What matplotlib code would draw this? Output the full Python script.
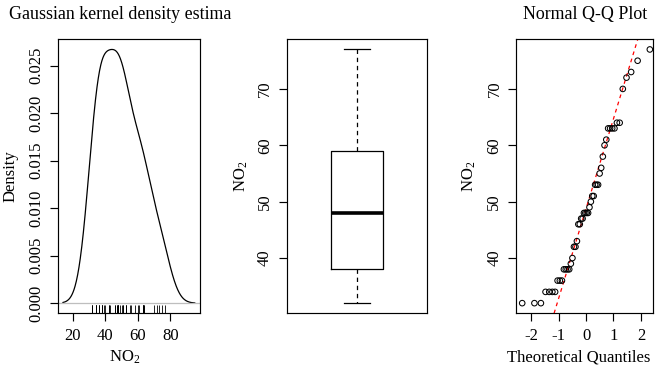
import numpy as np
import matplotlib
matplotlib.use("Agg")
import matplotlib.pyplot as plt
from statistics import NormalDist

# ---------------- data ----------------
no2 = [32, 32, 32, 34, 34, 34, 34, 36, 36, 36, 38, 38, 38, 38, 39, 40, 42, 42,
       43, 46, 46, 47, 47, 48, 48, 48, 48, 49, 50, 51, 51, 53, 53, 53, 55, 56,
       58, 60, 61, 63, 63, 63, 63, 64, 64, 70, 72, 73, 75, 77]

density_yticks = [0.000, 0.005, 0.010, 0.015, 0.020, 0.025]
density_xticks = [20, 40, 60, 80]
box_yticks = [40, 50, 60, 70]
qq_xticks = [-2, -1, 0, 1, 2]
qq_yticks = [40, 50, 60, 70]

box_whislo = 32
box_q1 = 38
box_med = 48
box_q3 = 59
box_whishi = 77

bw_adjust = 1.16

title_left = "Gaussian kernel density estima"
title_right = "Normal Q-Q Plot"
xlab_left = r"NO$_{\mathregular{2}}$"
ylab_left = "Density"
ylab_mid = r"NO$_{\mathregular{2}}$"
xlab_right = "Theoretical Quantiles"
ylab_right = r"NO$_{\mathregular{2}}$"

# ---------------- style ----------------
plt.rcParams["font.family"] = ["Liberation Serif", "DejaVu Serif"]
plt.rcParams["mathtext.fontset"] = "custom"
plt.rcParams["mathtext.rm"] = "Liberation Serif"
plt.rcParams["mathtext.it"] = "Liberation Serif:italic"
plt.rcParams["axes.unicode_minus"] = False

W, H = 661, 373
fig = plt.figure(figsize=(W / 100, H / 100), dpi=100)

def px_axes(left, top, right, bottom):
    return fig.add_axes([left / W, 1 - bottom / H, (right - left) / W, (bottom - top) / H])

TOP, BOT = 39.3, 313.3
ax1 = px_axes(57.7, TOP, 200.0, BOT)
ax2 = px_axes(286.7, TOP, 427.3, BOT)
ax3 = px_axes(516.0, TOP, 653.3, BOT)

FS = 12
LW = 0.85

def r_style(ax):
    for s in ax.spines.values():
        s.set_linewidth(LW)
        s.set_color("black")
    ax.tick_params(direction="out", length=5.8, width=LW, labelsize=FS, colors="black")
    ax.tick_params(axis="x", pad=5)
    ax.tick_params(axis="y", pad=4)

def rot_ylabels(ax):
    for lab in ax.get_yticklabels():
        lab.set_rotation(90)
        lab.set_va("center")
        lab.set_ha("right")

# ---------------- panel 1: kernel density ----------------
x = np.asarray(no2, dtype=float)
n = len(x)
sd = x.std(ddof=1)
iqr = np.percentile(x, 75) - np.percentile(x, 25)
bw = bw_adjust * 0.9 * min(sd, iqr / 1.34) * n ** (-0.2)
grid = np.linspace(x.min() - 3 * bw, x.max() + 3 * bw, 512)
dens = np.exp(-0.5 * ((grid[:, None] - x[None, :]) / bw) ** 2).sum(axis=1) / (n * bw * np.sqrt(2 * np.pi))

ax1.plot(grid, dens, color="black", lw=0.9)
ax1.axhline(0, color="#bebebe", lw=0.9)
ax1.vlines(x, 0, 0.03, transform=ax1.get_xaxis_transform(), color="black", lw=0.6)
xr = grid.max() - grid.min()
ax1.set_xlim(grid.min() - 0.04 * xr, grid.max() + 0.04 * xr)
ymax = dens.max()
ax1.set_ylim(-0.04 * ymax, 1.04 * ymax)
ax1.set_xticks(density_xticks)
ax1.set_yticks(density_yticks)
ax1.set_yticklabels([f"{v:.3f}" for v in density_yticks])
r_style(ax1)
rot_ylabels(ax1)

# ---------------- panel 2: boxplot ----------------
stats = [dict(whislo=box_whislo, q1=box_q1, med=box_med, q3=box_q3, whishi=box_whishi, fliers=[])]
ax2.bxp(stats, positions=[1], widths=0.367, showfliers=False, patch_artist=False,
        boxprops=dict(color="black", lw=0.9),
        medianprops=dict(color="black", lw=2.6, solid_capstyle="butt"),
        whiskerprops=dict(color="black", lw=0.9, linestyle=(0, (3.5, 3))),
        capprops=dict(color="black", lw=0.9),
        capwidths=0.184)
ax2.set_xlim(0.5, 1.5)
yr = box_whishi - box_whislo
ax2.set_ylim(box_whislo - 0.04 * yr, box_whishi + 0.04 * yr)
ax2.set_xticks([])
ax2.set_yticks(box_yticks)
r_style(ax2)
rot_ylabels(ax2)

# ---------------- panel 3: normal QQ ----------------
srt = np.sort(x)
nd = NormalDist()
theo = np.array([nd.inv_cdf((i - 0.5) / n) for i in range(1, n + 1)])
ax3.scatter(theo, srt, s=16, facecolors="none", edgecolors="black", linewidths=0.75, zorder=3)
q1y, q3y = np.percentile(x, [25, 75])
q1x, q3x = nd.inv_cdf(0.25), nd.inv_cdf(0.75)
ax3.axline((q1x, q1y), (q3x, q3y), color="red", lw=0.9, linestyle=(0, (3, 3)), zorder=2)
tr = theo.max() - theo.min()
ax3.set_xlim(theo.min() - 0.04 * tr - 0.04, theo.max() + 0.04 * tr - 0.06)
sr = srt.max() - srt.min()
ax3.set_ylim(srt.min() - 0.04 * sr, srt.max() + 0.04 * sr)
ax3.set_xticks(qq_xticks)
ax3.set_yticks(qq_yticks)
r_style(ax3)
rot_ylabels(ax3)

# ---------------- texts ----------------
def ftext(xp, yp, s, **kw):
    fig.text(xp / W, 1 - yp / H, s, **kw)

ftext(9, 14.5, title_left, fontsize=12.9, ha="left", va="center")
ftext(584.7, 14.5, title_right, fontsize=12.9, ha="center", va="center")
ftext(125, 357, xlab_left, fontsize=FS, ha="center", va="center")
ftext(579, 357, xlab_right, fontsize=FS, ha="center", va="center")
ftext(11, 176.3, ylab_left, fontsize=FS, ha="center", va="center", rotation=90)
ftext(241, 176.3, ylab_mid, fontsize=FS, ha="center", va="center", rotation=90)
ftext(469, 176.3, ylab_right, fontsize=FS, ha="center", va="center", rotation=90)

fig.savefig("out.png", dpi=100)
